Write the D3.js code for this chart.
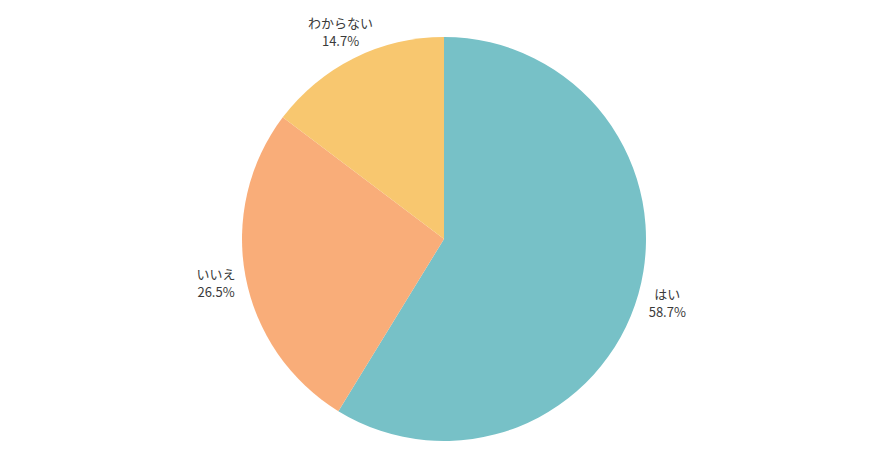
<!DOCTYPE html>
<html lang="ja">
<head>
    <meta charset="utf-8" />
    <title>Pie Chart</title>
    <script src="https://cdnjs.cloudflare.com/ajax/libs/d3/7.8.5/d3.min.js"></script>
    <style>
        body { margin: 0; background: #fff; }
        .label {
            font-family: "Noto Sans CJK JP", "Noto Sans", sans-serif;
            font-size: 13px;
            fill: #3a3a3a;
        }
    </style>
</head>
<body>
<div id="chart"></div>
<script>
    // chart data
    const categories = ["はい", "いいえ", "わからない"];
    const values = [58.7, 26.5, 14.7];
    const colors = ["#77c1c7", "#f9ad79", "#f8c76f"];

    const width = 870;
    const height = 456;
    const cx = 444, cy = 239;
    const radius = 202;

    const svg = d3.select("#chart")
        .append("svg")
        .attr("width", width)
        .attr("height", height)
        .append("g")
        .attr("transform", `translate(${cx}, ${cy})`);

    const data = categories.map((c, i) => ({ name: c, value: values[i], color: colors[i] }));

    const pie = d3.pie()
        .value(d => d.value)
        .sort(null);

    const arc = d3.arc()
        .innerRadius(0)
        .outerRadius(radius);

    // labels sit outside the pie, along the mid angle of each slice
    const labelArc = d3.arc()
        .innerRadius(232)
        .outerRadius(232);

    const arcs = pie(data);

    svg.selectAll("path")
        .data(arcs)
        .enter()
        .append("path")
        .attr("d", arc)
        .attr("fill", d => d.data.color);

    const labels = svg.selectAll("text")
        .data(arcs)
        .enter()
        .append("text")
        .attr("class", "label")
        .attr("text-anchor", "middle")
        .attr("transform", d => `translate(${labelArc.centroid(d)})`);

    labels.append("tspan")
        .attr("x", 0)
        .attr("dy", "-0.25em")
        .text(d => d.data.name);

    labels.append("tspan")
        .attr("x", 0)
        .attr("dy", 18)
        .text(d => d.data.value.toFixed(1) + "%");
</script>
</body>
</html>
